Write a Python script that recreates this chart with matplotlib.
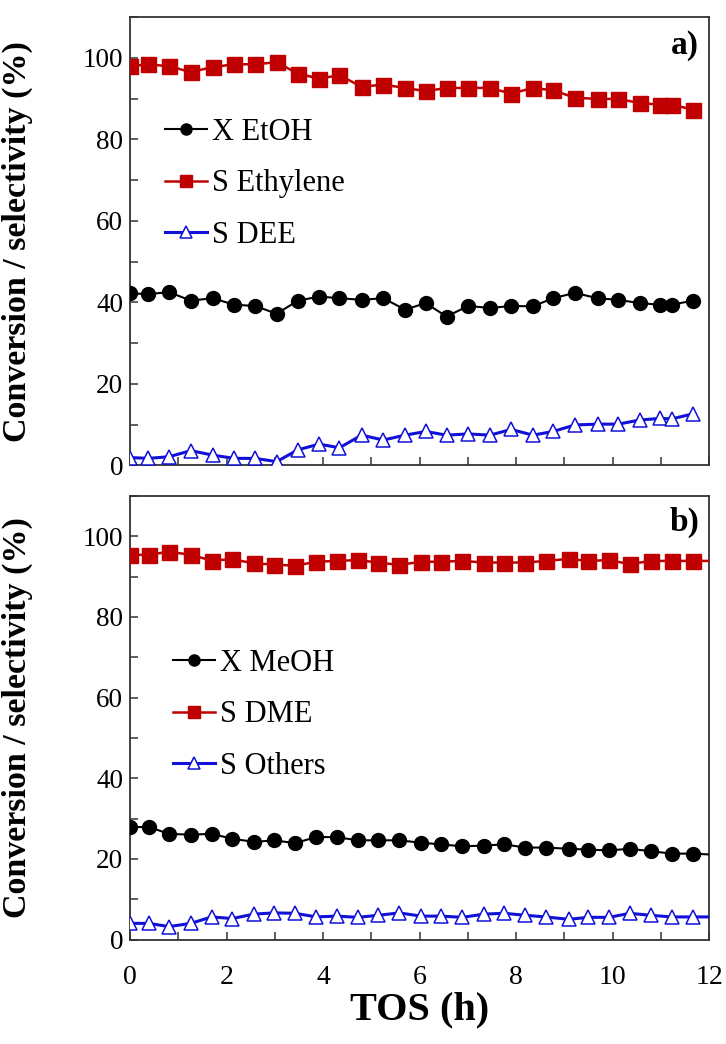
import matplotlib
matplotlib.use("Agg")
import matplotlib.pyplot as plt
from matplotlib.ticker import MultipleLocator

plt.rcParams['font.family'] = ['Liberation Serif', 'DejaVu Serif']

# ---------------- data ----------------
tos_a = [0, 0.38, 0.81, 1.26, 1.71, 2.16, 2.59, 3.04, 3.48, 3.92, 4.34, 4.80, 5.25, 5.70,
         6.13, 6.56, 7.01, 7.46, 7.90, 8.35, 8.77, 9.22, 9.69, 10.12, 10.56, 10.98, 11.23, 11.66]
x_etoh = [42.2, 42.0, 42.5, 40.4, 41.0, 39.4, 39.1, 37.2, 40.4, 41.4, 41.0, 40.6, 41.0, 38.2,
          39.8, 36.5, 39.1, 38.6, 39.1, 39.0, 41.0, 42.3, 41.0, 40.6, 39.8, 39.4, 39.4, 40.4]
s_ethylene = [97.9, 98.4, 97.9, 96.5, 97.7, 98.4, 98.4, 98.9, 96.1, 94.9, 95.7, 92.9, 93.4, 92.6,
              91.8, 92.6, 92.6, 92.6, 91.2, 92.6, 92.0, 90.2, 89.9, 89.9, 88.9, 88.5, 88.5, 87.3]
s_dee = [1.9, 1.7, 2.1, 3.6, 2.5, 1.7, 1.7, 0.9, 3.8, 5.2, 4.3, 7.4, 6.2, 7.4,
         8.3, 7.4, 7.7, 7.4, 8.8, 7.4, 8.3, 9.9, 10.1, 10.1, 11.1, 11.5, 11.4, 12.6]

tos_b = [0, 0.39, 0.81, 1.26, 1.69, 2.12, 2.57, 2.99, 3.42, 3.86, 4.28, 4.72, 5.15, 5.58,
         6.03, 6.44, 6.89, 7.34, 7.76, 8.19, 8.62, 9.09, 9.50, 9.93, 10.36, 10.79, 11.23, 11.66, 12.0]
x_meoh = [27.9, 27.9, 26.2, 26.0, 26.2, 25.0, 24.2, 24.6, 23.9, 25.4, 25.4, 24.6, 24.6, 24.6,
          24.0, 23.6, 23.1, 23.3, 23.6, 22.8, 22.8, 22.5, 22.3, 22.1, 22.5, 21.9, 21.3, 21.3, 21.1]
s_dme = [95.4, 95.4, 96.2, 95.4, 94.0, 94.3, 93.3, 93.0, 92.7, 93.7, 93.9, 94.1, 93.5, 92.9,
         93.7, 93.7, 93.9, 93.5, 93.5, 93.5, 93.9, 94.4, 93.9, 94.1, 93.1, 93.9, 93.9, 93.9, 93.9]
s_others = [4.0, 4.0, 3.2, 4.0, 5.6, 5.2, 6.3, 6.6, 6.5, 5.6, 5.8, 5.5, 6.0, 6.6,
            5.8, 5.8, 5.5, 6.3, 6.5, 6.0, 5.6, 5.0, 5.5, 5.5, 6.5, 6.0, 5.6, 5.6, 5.6]

labels_a = ["X EtOH", "S Ethylene", "S DEE"]
labels_b = ["X MeOH", "S DME", "S Others"]
ylabel = "Conversion / selectivity (%)"
xlabel = "TOS (h)"

# ---------------- styling ----------------
RED = "#C00000"
BLUE = "#1010D8"
W, H = 726, 1044
fig = plt.figure(figsize=(W / 100, H / 100), dpi=100)

def axes_px(left, right, top, bottom):
    return fig.add_axes([left / W, 1 - bottom / H, (right - left) / W, (bottom - top) / H])

ax1 = axes_px(130, 709, 17, 465.3)
ax2 = axes_px(130, 709, 496, 939.5)

def style(ax):
    ax.set_xlim(0, 12)
    ax.set_ylim(0, 110)
    ax.xaxis.set_major_locator(MultipleLocator(2))
    ax.xaxis.set_minor_locator(MultipleLocator(1))
    ax.yaxis.set_major_locator(MultipleLocator(20))
    ax.yaxis.set_minor_locator(MultipleLocator(10))
    ax.tick_params(which='both', direction='in', length=5.8, width=1.1, color='#333333')
    ax.tick_params(axis='y', which='major', labelsize=19.5, pad=5)
    ax.tick_params(axis='x', which='major', labelsize=20, pad=18)
    for s in ax.spines.values():
        s.set_linewidth(1.3)
        s.set_color('#333333')
    ax.set_ylabel(ylabel, fontsize=24.5, fontweight='bold')
    ax.yaxis.set_label_coords(-0.167, 0.5)

def plot_series(ax, x, y1, y2, y3, labels, mevery=None):
    l1, = ax.plot(x, y1, color='black', lw=1.5, marker='o', ms=10, mfc='black', mec='black',
                  markevery=mevery, label=labels[0], zorder=3)
    l2, = ax.plot(x, y2, color=RED, lw=1.8, marker='s', ms=10.8, mfc=RED, mec=RED,
                  markevery=mevery, label=labels[1], zorder=3)
    l3, = ax.plot(x, y3, color=BLUE, lw=2.2, marker='^', ms=10, mfc='white', mec=BLUE, mew=1.1,
                  markevery=mevery, label=labels[2], zorder=3)
    return [l1, l2, l3]

style(ax1)
style(ax2)
ax1.tick_params(axis='x', labelbottom=False)

h1 = plot_series(ax1, tos_a, x_etoh, s_ethylene, s_dee, labels_a)
h2 = plot_series(ax2, tos_b, x_meoh, s_dme, s_others, labels_b, mevery=slice(0, len(tos_b) - 1))

leg_kw = dict(frameon=False, fontsize=22, handlelength=1.37, handletextpad=0.16,
              labelspacing=0.74, borderpad=0, borderaxespad=0, markerscale=0.8,
              loc='center left')
ax1.legend(handles=h1, bbox_to_anchor=((165 - 130) / 579, (465.3 - 184) / 448.3), **leg_kw)
ax2.legend(handles=h2, bbox_to_anchor=((173 - 130) / 579, (939.5 - 715) / 443.5), **leg_kw)

ax1.text(0.982, 0.937, "a)", transform=ax1.transAxes, ha='right', va='center',
         fontsize=24, fontweight='bold')
ax2.text(0.984, 0.941, "b)", transform=ax2.transAxes, ha='right', va='center',
         fontsize=24, fontweight='bold')

fig.text(419.5 / W, 1 - 1010 / H, xlabel, ha='center', va='center', fontsize=29,
         fontweight='bold')

fig.savefig("out.png", dpi=100)
